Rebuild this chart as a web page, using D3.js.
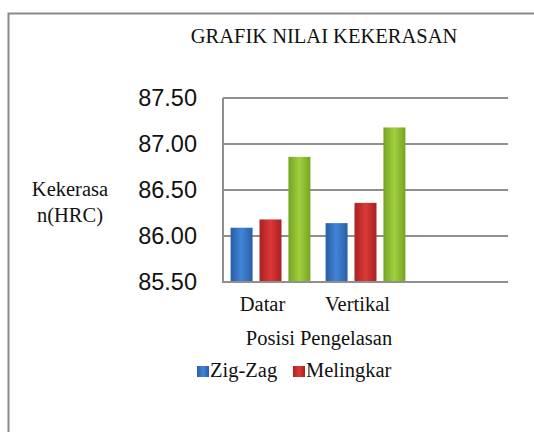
<!DOCTYPE html>
<html><head><meta charset="utf-8">
<script src="https://cdn.jsdelivr.net/npm/d3@7"></script>
<style>html,body{margin:0;padding:0;background:#fff;}svg{display:block;}
.sf{font-family:"Liberation Serif","Times New Roman",Times,"Tinos","DejaVu Serif",serif;}
.ss{font-family:"Liberation Sans",Arial,sans-serif;}
</style>
</head><body>
<script>
const categories = ["Datar", "Vertikal", ""];
const seriesNames = ["Zig-Zag", "Melingkar", "Seri 3"];
const zigzag = [86.09, 86.14, null];
const melingkar = [86.18, 86.36, null];
const seri3 = [86.86, 87.18, null];
const legendNames = ["Zig-Zag", "Melingkar"];
const yTicks = [85.5, 86.0, 86.5, 87.0, 87.5];
const title = "GRAFIK NILAI KEKERASAN";
const yTitle = ["Kekerasa", "n(HRC)"];
const xTitle = "Posisi Pengelasan";

const W = 534, H = 432;
const svg = d3.select("body").append("svg").attr("width", W).attr("height", H);
const defs = svg.append("defs");
const cols = [
  {edge: "#2a5da6", mid: "#4285d8"},
  {edge: "#a82222", mid: "#dc3838"},
  {edge: "#76a324", mid: "#9fd03e"}
];
cols.forEach((c, i) => {
  const g = defs.append("linearGradient").attr("id", "g" + i).attr("x1", "0").attr("x2", "1").attr("y1", "0").attr("y2", "0");
  g.append("stop").attr("offset", "0").attr("stop-color", c.edge);
  g.append("stop").attr("offset", "0.5").attr("stop-color", c.mid);
  g.append("stop").attr("offset", "1").attr("stop-color", c.edge);
});

// outer border (only top and left visible)
svg.append("path").attr("d", "M8.5,432 L8.5,13.5 L534,13.5").attr("fill", "none").attr("stroke", "#8a8a8a").attr("stroke-width", 2);

svg.append("text").attr("class", "sf").attr("x", 324).attr("y", 43).attr("text-anchor", "middle")
  .style("font-size", "20.5px").attr("fill", "#111").text(title);

const pL = 223, pR = 508, pT = 98, pB = 282;
const y = d3.scaleLinear().domain([85.5, 87.5]).range([pB, pT]);
const x = d3.scaleBand().domain(categories).range([pL, pR]).paddingInner(0.16).paddingOuter(0.08);

// gridlines
svg.append("g").selectAll("line").data(yTicks.slice(1)).join("line")
  .attr("x1", pL).attr("x2", pR).attr("y1", d => y(d)).attr("y2", d => y(d))
  .attr("stroke", "#8f8f8f").attr("stroke-width", 2);

// y axis labels
const yAxis = d3.axisLeft(y).tickValues(yTicks).tickFormat(d3.format(".2f")).tickSize(0).tickPadding(26);
const ya = svg.append("g").attr("transform", `translate(${pL},0)`).call(yAxis).attr("font-family", null).attr("font-size", null);
ya.select(".domain").remove();
ya.selectAll("text").attr("class", "ss").style("font-size", "23.5px").attr("fill", "#111");

// bars
const series = [zigzag, melingkar, seri3];
const xs = d3.scaleBand().domain(d3.range(series.length)).range([0, x.bandwidth()]).paddingInner(0.24);
series.forEach((vals, si) => {
  svg.append("g").selectAll("rect").data(categories.map((c, i) => ({c, v: vals[i]})).filter(d => d.v != null)).join("rect")
    .attr("x", d => x(d.c) + xs(si)).attr("width", xs.bandwidth())
    .attr("y", d => y(d.v)).attr("height", d => pB - y(d.v))
    .attr("fill", `url(#g${si})`);
});

// axes lines
svg.append("line").attr("x1", pL).attr("x2", pL).attr("y1", pT).attr("y2", pB + 1).attr("stroke", "#8f8f8f").attr("stroke-width", 2);
svg.append("line").attr("x1", pL - 1).attr("x2", pR).attr("y1", pB).attr("y2", pB).attr("stroke", "#8f8f8f").attr("stroke-width", 2);

// x axis labels
const xAxis = d3.axisBottom(x).tickSize(0).tickPadding(14);
const xa = svg.append("g").attr("transform", `translate(-8,${pB})`).call(xAxis).attr("font-family", null).attr("font-size", null);
xa.select(".domain").remove();
xa.selectAll("text").attr("class", "sf").style("font-size", "20.5px").attr("fill", "#111");

// axis titles
svg.append("text").attr("class", "sf").attr("x", 319).attr("y", 345).attr("text-anchor", "middle")
  .style("font-size", "20.5px").attr("fill", "#111").text(xTitle);
svg.append("g").selectAll("text").data(yTitle).join("text").attr("class", "sf")
  .attr("x", 70).attr("y", (d, i) => 196 + i * 26).attr("text-anchor", "middle")
  .style("font-size", "20.5px").attr("fill", "#111").text(d => d);

// legend
const lg = svg.append("g");
const legX = [197, 293];
legendNames.forEach((n, i) => {
  lg.append("rect").attr("x", legX[i]).attr("y", 366).attr("width", 12).attr("height", 11).attr("fill", `url(#g${i})`);
  lg.append("text").attr("class", "sf").attr("x", legX[i] + 13).attr("y", 377).style("font-size", "20.5px").attr("fill", "#111").text(n);
});
</script>
</body></html>
